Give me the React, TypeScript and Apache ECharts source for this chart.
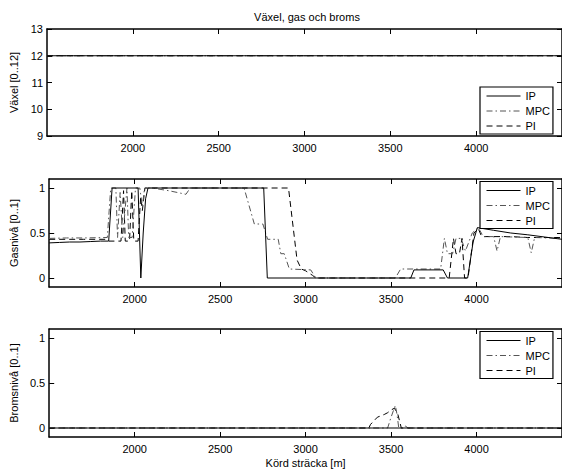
import React, { useEffect, useRef } from "react";
import * as echarts from "echarts";

// Tick positions and labels
const distanceTicks = [2000, 2500, 3000, 3500, 4000];
const gearTicks = [9, 10, 11, 12, 13];
const levelTicks = [0, 0.5, 1];
const controllers = ["IP", "MPC", "PI"];

// Gear (Växel) per controller: [distance m, gear]
const gearIP = [[1500, 12], [4500, 12]];
const gearMPC = [[1500, 12], [4500, 12]];
const gearPI = [[1500, 12], [4500, 12]];

// Throttle level (Gasnivå) per controller
const gasIP = [
  [1500, 0.39], [1560, 0.395], [1620, 0.4], [1680, 0.4], [1740, 0.405], [1800, 0.41],
  [1848, 0.41], [1868, 1], [2020, 1], [2036, 0], [2050, 0.5], [2064, 0.88], [2078, 1],
  [2755, 1], [2776, 0], [3615, 0], [3634, 0.09], [3805, 0.09], [3830, 0], [3948, 0],
  [3980, 0.4], [4005, 0.56], [4100, 0.53], [4200, 0.5], [4300, 0.48], [4400, 0.455], [4500, 0.43],
];
const gasMPC = [
  [1500, 0.44], [1600, 0.445], [1700, 0.445], [1840, 0.45], [1860, 1], [1890, 1], [1900, 0.45],
  [1915, 0.95], [1930, 0.45], [1955, 1], [1965, 0.45], [1985, 0.45], [2005, 1], [2030, 1],
  [2045, 0.8], [2058, 1], [2100, 1], [2200, 0.97], [2300, 0.93], [2325, 1], [2640, 1],
  [2700, 0.6], [2750, 0.6], [2778, 0.43], [2840, 0.43], [2855, 0.27], [2875, 0.27], [2905, 0.1],
  [3030, 0.09], [3060, 0], [3525, 0], [3556, 0.1], [3790, 0.1], [3812, 0.44], [3830, 0.27],
  [3860, 0.27], [3880, 0.44], [3910, 0.44], [3935, 0.3], [3975, 0.5], [4010, 0.56], [4040, 0.46],
  [4100, 0.46], [4120, 0.3], [4140, 0.46], [4300, 0.45], [4320, 0.28], [4340, 0.45], [4500, 0.44],
];
const gasPI = [
  [1500, 0.43], [1600, 0.43], [1700, 0.43], [1840, 0.43], [1850, 0.41], [1920, 0.41],
  [1935, 0.97], [1945, 0.41], [1970, 0.41], [1983, 0.97], [1995, 0.41], [2020, 0.41],
  [2035, 0.9], [2045, 0.75], [2060, 1], [2900, 1], [2925, 0.6], [2950, 0.2], [2975, 0.1],
  [3000, 0.08], [3040, 0.03], [3060, 0], [3840, 0], [3865, 0.44], [3880, 0.27], [3900, 0.27],
  [3915, 0.44], [3930, 0], [3950, 0], [3985, 0.5], [4010, 0.55], [4030, 0.46], [4200, 0.46],
  [4300, 0.45], [4500, 0.45],
];

// Brake level (Bromsnivå) per controller
const brakeIP = [[1500, 0], [4500, 0]];
const brakeMPC = [
  [1500, 0], [3480, 0], [3500, 0.12], [3515, 0.2], [3525, 0.25], [3535, 0.15], [3545, 0],
  [3570, 0], [3585, 0.02], [3600, 0], [4500, 0],
];
const brakePI = [
  [1500, 0], [3370, 0], [3380, 0.04], [3420, 0.12], [3460, 0.15], [3480, 0.17], [3500, 0.2],
  [3520, 0.22], [3540, 0.15], [3560, 0], [4500, 0],
];

const FONT = "'Liberation Sans', Arial, Helvetica, sans-serif";
const BLACK = "#000";

const lineStyles: Record<string, any> = {
  IP: { color: BLACK, width: 1, type: "solid" },
  MPC: { color: "#555", width: 1, type: [6, 3, 1.5, 3] },
  PI: { color: BLACK, width: 1, type: [6, 4] },
};

const grids = [
  { left: 47, top: 29, width: 520, height: 107 },
  { left: 47, top: 179, width: 520, height: 108 },
  { left: 47, top: 329, width: 520, height: 108 },
];

const panels = [
  {
    yName: "Växel [0..12]",
    yMin: 9,
    yMax: 13,
    yTicks: gearTicks,
    nameGap: 21,
    legendTop: 87,
    series: [gearIP, gearMPC, gearPI],
  },
  {
    yName: "Gasnivå [0..1]",
    yMin: -0.1,
    yMax: 1.1,
    yTicks: levelTicks,
    nameGap: 23,
    legendTop: 181.5,
    series: [gasIP, gasMPC, gasPI],
  },
  {
    yName: "Bromsnivå [0..1]",
    yMin: -0.1,
    yMax: 1.1,
    yTicks: levelTicks,
    nameGap: 23,
    legendTop: 331.5,
    series: [brakeIP, brakeMPC, brakePI],
  },
];

const textBase = { color: BLACK, fontSize: 11, fontFamily: FONT };
const plainNumber = (v: number) => String(v);

function buildOption() {
  const xAxis: any[] = [];
  const yAxis: any[] = [];
  const series: any[] = [];
  const legend: any[] = [];

  panels.forEach((p, i) => {
    const last = i === panels.length - 1;
    const axisLine = { show: true, onZero: false, lineStyle: { color: BLACK, width: 1.5 } };
    const tick = (values: number[]) => ({
      show: true,
      inside: true,
      length: 5,
      customValues: values,
      lineStyle: { color: BLACK, width: 1 },
    });
    // bottom x axis with labels
    xAxis.push({
      type: "value",
      gridIndex: i,
      position: "bottom",
      min: 1500,
      max: 4500,
      axisLine,
      axisTick: tick(distanceTicks),
      axisLabel: { show: true, customValues: distanceTicks, margin: 6, formatter: plainNumber, ...textBase },
      splitLine: { show: false },
      name: last ? "Körd sträcka [m]" : "",
      nameLocation: "middle",
      nameGap: 20,
      nameTextStyle: textBase,
    });
    // top x axis: box edge with mirrored ticks
    xAxis.push({
      type: "value",
      gridIndex: i,
      position: "top",
      min: 1500,
      max: 4500,
      axisLine,
      axisTick: tick(distanceTicks),
      axisLabel: { show: false },
      splitLine: { show: false },
    });
    yAxis.push({
      type: "value",
      gridIndex: i,
      position: "left",
      min: p.yMin,
      max: p.yMax,
      axisLine,
      axisTick: tick(p.yTicks),
      axisLabel: { show: true, customValues: p.yTicks, margin: 4, formatter: plainNumber, ...textBase },
      splitLine: { show: false },
      name: p.yName,
      nameLocation: "middle",
      nameRotate: 90,
      nameGap: p.nameGap,
      nameTextStyle: textBase,
    });
    yAxis.push({
      type: "value",
      gridIndex: i,
      position: "right",
      min: p.yMin,
      max: p.yMax,
      axisLine,
      axisTick: tick(p.yTicks),
      axisLabel: { show: false },
      splitLine: { show: false },
    });

    controllers.forEach((name, k) => {
      series.push({
        type: "line",
        name,
        xAxisIndex: i * 2,
        yAxisIndex: i * 2,
        data: p.series[k],
        symbol: "none",
        lineStyle: lineStyles[name],
        clip: true,
        z: 3 - k,
      });
    });

    legend.push({
      data: controllers,
      orient: "vertical",
      left: 480,
      top: p.legendTop,
      padding: [3, 3, 2, 6],
      itemWidth: 34,
      itemHeight: 12,
      itemGap: 3,
      selectedMode: false,
      backgroundColor: "#fff",
      borderColor: BLACK,
      borderWidth: 1.2,
      borderRadius: 0,
      itemStyle: { opacity: 0 },
      lineStyle: { width: 1 },
      textStyle: { ...textBase, lineHeight: 12 },
    });
  });

  return {
    animation: false,
    backgroundColor: "#fff",
    title: {
      text: "Växel, gas och broms",
      left: 307,
      top: 11,
      textAlign: "center",
      padding: 0,
      textStyle: { ...textBase, fontWeight: "normal" },
    },
    grid: grids,
    xAxis,
    yAxis,
    legend,
    series,
  };
}

export default function App() {
  const ref = useRef<HTMLDivElement>(null);
  useEffect(() => {
    if (!ref.current) return;
    const chart = echarts.init(ref.current, undefined, { renderer: "svg" });
    chart.setOption(buildOption() as any);
    return () => chart.dispose();
  }, []);
  return (
    <div
      ref={ref}
      style={{ position: "absolute", left: 0, top: 0, width: 562, height: 471, background: "#fff" }}
    />
  );
}
